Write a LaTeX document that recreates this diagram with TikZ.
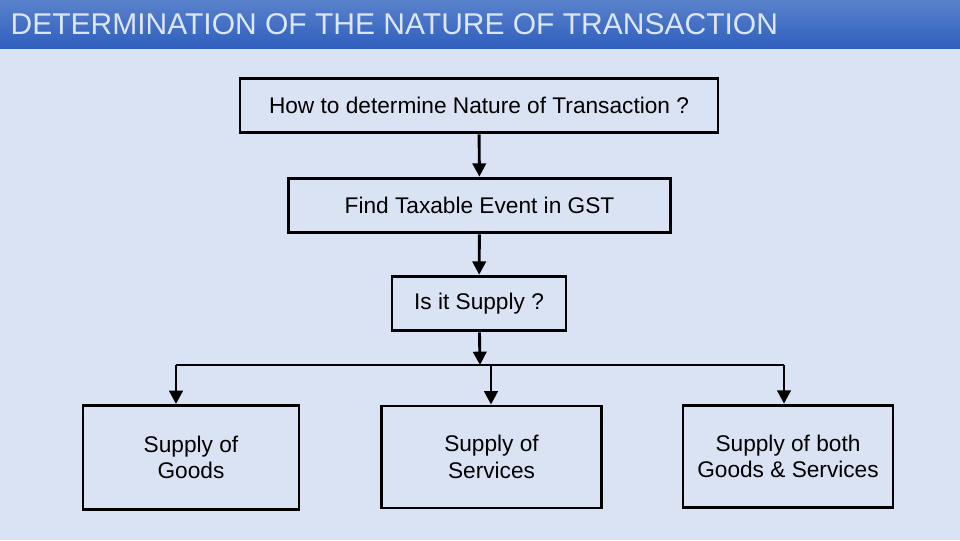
\documentclass[tikz,border=0pt]{standalone}
\usepackage{fontspec}
\setmainfont{Liberation Sans}
\usetikzlibrary{arrows.meta}
\definecolor{bg}{HTML}{DAE3F3}
\definecolor{bartop}{HTML}{5A82CC}
\definecolor{barbot}{HTML}{2F5FBE}
\definecolor{ttl}{HTML}{DCE6F5}
\begin{document}
\begin{tikzpicture}[x=0.75pt,y=-0.75pt,
  box/.style={draw=black,line width=2.2pt,fill=bg,inner sep=0pt,align=center,font=\fontsize{17}{20}\selectfont},
  arr/.style={line width=2.2pt,-{Triangle[length=10pt,width=10pt]}}]
\fill[bg] (0,0) rectangle (960,540);
\shade[top color=bartop,bottom color=barbot] (0,0) rectangle (960,48);
\node[anchor=west,text=ttl,font=\fontsize{22.5}{26}\selectfont] (t) at (6,24) {DETERMINATION OF THE NATURE OF TRANSACTION};
\node[box,minimum width=358.5pt,minimum height=41pt] (b1) at (479,105.5) {How to determine Nature of Transaction ?};
\node[box,minimum width=287pt,minimum height=41pt] (b2) at (479.5,205.5) {Find Taxable Event in GST};
\node[box,minimum width=130.5pt,minimum height=41pt] (b3) at (479,303.5) {Is it Supply ?};
\node[box,minimum width=162pt,minimum height=78pt] (b4) at (191,457.5) {Supply of\\Goods};
\node[box,minimum width=165.5pt,minimum height=76.5pt] (b5) at (491.5,457) {Supply of\\Services};
\node[box,minimum width=157.5pt,minimum height=77pt] (b6) at (788,456.5) {Supply of both\\Goods \& Services};
\coordinate (j) at (480,365);
\coordinate (jl) at (176,365);
\coordinate (jm) at (491,365);
\coordinate (jr) at (784,365);
\draw[arr] (b1) -- (b2);
\draw[arr] (b2) -- (b3);
\draw[arr] (b3) -- (j);
\draw[line width=2.2pt] (jl) -- (jr);
\draw[arr] (jl) -- (jl |- b4.north);
\draw[arr] (jm) -- (jm |- b5.north);
\draw[arr] (jr) -- (jr |- b6.north);
\end{tikzpicture}
\end{document}
